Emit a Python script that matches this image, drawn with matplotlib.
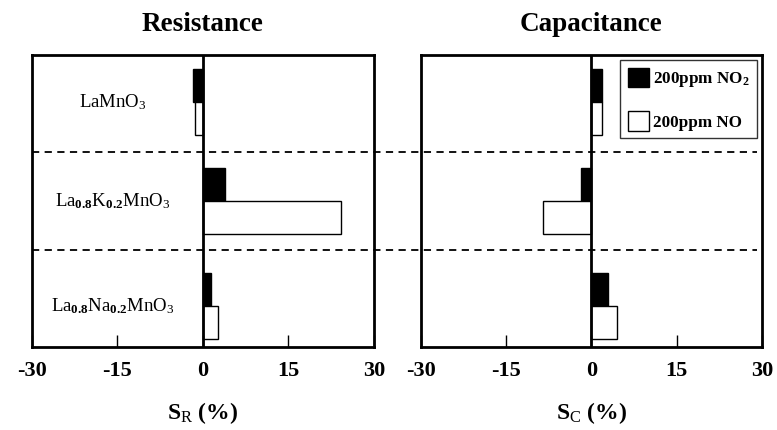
import matplotlib
matplotlib.use("Agg")
import matplotlib.pyplot as plt
from matplotlib.patches import Patch

plt.rcParams['font.family'] = ['Liberation Serif', 'DejaVu Serif']
plt.rcParams['mathtext.fontset'] = 'custom'
plt.rcParams['mathtext.rm'] = 'Liberation Serif'
plt.rcParams['mathtext.it'] = 'Liberation Serif:italic'
plt.rcParams['mathtext.bf'] = 'Liberation Serif:bold'

# data
materials = [r'$\mathrm{LaMnO}_3$',
             r'$\mathrm{La}_{\mathbf{0.8}}\mathrm{K}_{\mathbf{0.2}}\mathrm{MnO}_3$',
             r'$\mathrm{La}_{\mathbf{0.8}}\mathrm{Na}_{\mathbf{0.2}}\mathrm{MnO}_3$']
ypos = [2.52, 1.50, 0.42]
res_no2 = [-1.7, 3.9, 1.5]
res_no = [-1.35, 24.2, 2.6]
cap_no2 = [1.8, -1.8, 2.9]
cap_no = [1.8, -8.5, 4.5]
xticks = [-30, -15, 0, 15, 30]

fig = plt.figure(figsize=(7.77, 4.30), dpi=100)
ax1 = fig.add_axes([0.0412, 0.193, 0.440, 0.679])
ax2 = fig.add_axes([0.5414, 0.193, 0.4396, 0.679])

bh = 0.34
for ax, v1, v2, title, xl in [(ax1, res_no2, res_no, 'Resistance', r'$\mathbf{S}_\mathrm{R}$ (%)'),
                              (ax2, cap_no2, cap_no, 'Capacitance', r'$\mathbf{S}_\mathrm{C}$ (%)')]:
    ax.set_facecolor('none')
    ax.barh([y + bh / 2 for y in ypos], v1, height=bh, color='black', edgecolor='black', lw=1)
    ax.barh([y - bh / 2 for y in ypos], v2, height=bh, color='white', edgecolor='black', lw=1)
    ax.axvline(0, color='black', lw=2)
    ax.set_xlim(-30, 30)
    ax.set_ylim(0, 3)
    ax.set_yticks([])
    ax.set_xticks(xticks)
    ax.set_xticklabels([str(t) for t in xticks], fontsize=16, fontweight='bold')
    ax.tick_params(axis='x', direction='in', length=9, width=1, pad=10)
    for s in ax.spines.values():
        s.set_linewidth(2)
    ax.set_title(title, fontsize=19.5, fontweight='bold', pad=17)
    ax.set_xlabel(xl, fontsize=17, fontweight='bold', labelpad=14)

for y, m in zip(ypos, materials):
    ax1.text(-15.8, y, m, fontsize=13.5, ha='center', va='center')

# dashed separators running across both panels
for yb in [1, 2]:
    ax1.axhline(yb, xmin=0, xmax=2.12, color='black', lw=1.3,
                linestyle=(0, (4, 3)), clip_on=False, zorder=0)

handles = [Patch(facecolor='black', edgecolor='black'),
           Patch(facecolor='white', edgecolor='black')]
leg = ax2.legend(handles, [r'200ppm NO$_\mathbf{2}$', '200ppm NO'], loc='upper right',
                 prop={'weight': 'bold', 'size': 12.3}, frameon=True, fancybox=False,
                 edgecolor='black', labelspacing=1.3, handlelength=1.2, handleheight=1.35,
                 handletextpad=0.25, borderaxespad=0.3, borderpad=0.45)
leg.get_frame().set_linewidth(1)

fig.savefig('out.png', dpi=100)
